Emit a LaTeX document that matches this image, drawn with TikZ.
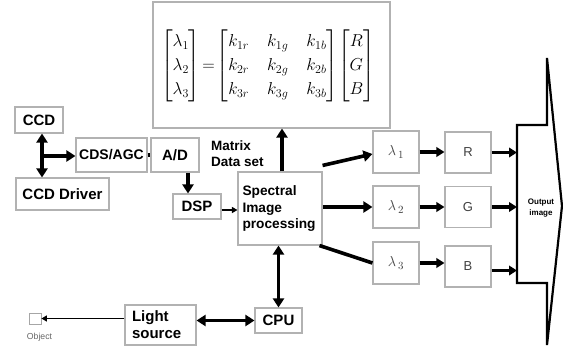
\documentclass[tikz,border=0pt]{standalone}
\usepackage{amsmath}
\usepackage[no-math]{fontspec}
\setmainfont{Liberation Sans}
\usetikzlibrary{arrows.meta}
\begin{document}
\begin{tikzpicture}[x=1pt,y=-1pt,
  box/.style={draw=gray!60, line width=1.1pt, fill=white, inner sep=0pt,
    font=\bfseries\fontsize{15}{17}\selectfont},
  lbox/.style={draw=gray!60, line width=1.1pt, fill=white, inner sep=0pt, text=black!75,
    minimum width=46pt, minimum height=42pt, font=\fontsize{15}{16}\selectfont},
  cbox/.style={draw=gray!60, line width=1.1pt, fill=white, inner sep=0pt, text=black!75,
    minimum width=46pt, minimum height=41pt, font=\fontsize{13}{14}\selectfont},
  tip/.tip={Triangle[length=9pt,width=11pt]},
  stip/.tip={Triangle[length=8pt,width=9.5pt]},
  arr/.style={line width=3.6pt, -tip},
  sarr/.style={line width=3.6pt, -stip},
  dbl/.style={line width=3.6pt, tip-tip},
  thin/.style={line width=1.2pt, -{Triangle[length=5.5pt,width=6pt]}}]
\useasboundingbox (0,0) rectangle (563,351);

% matrix box
\node[draw=gray!60, line width=1.1pt, minimum width=237pt, minimum height=126pt, inner sep=0pt] (mat) at (271.5,65) {};
\node[inner sep=0pt] (eq) at (268,66) {\fontsize{18}{24}\selectfont
  $\begin{bmatrix}\lambda_1\\ \lambda_2\\ \lambda_3\end{bmatrix}
  \!=\!
  {\arraycolsep=9pt\begin{bmatrix} k_{1r} & k_{1g} & k_{1b}\\ k_{2r} & k_{2g} & k_{2b}\\ k_{3r} & k_{3g} & k_{3b}\end{bmatrix}}
  \!\begin{bmatrix}R\\ G\\ B\end{bmatrix}$};

\node[box, minimum width=48pt, minimum height=26pt] (ccd) at (39,120) {CCD};
\node[box, minimum width=93pt, minimum height=32pt] (drv) at (62.5,194) {CCD Driver};
\node[box, minimum width=71pt, minimum height=34pt, font=\bfseries\fontsize{14}{16}\selectfont] (cds) at (111.5,155) {CDS/AGC};
\node[box, minimum width=48pt, minimum height=34pt] (ad) at (175,155) {A/D};
\node[box, minimum width=48pt, minimum height=25pt] (dsp) at (197,206.5) {DSP};
\node[box, minimum height=73pt, text width=75pt, inner xsep=4.5pt, align=left,
  font=\bfseries\fontsize{13.7}{16.5}\selectfont] (sip) at (280,208.5) {Spectral\\Image\\processing};
\node[inner sep=0pt, anchor=west, align=left, font=\bfseries\fontsize{13.5}{16.5}\selectfont] (mds) at (211,153.5) {Matrix\\Data set};

\node[lbox] (l1) at (396,152) {$\lambda_{\,1}$};
\node[lbox] (l2) at (396,207) {$\lambda_{\,2}$};
\node[lbox] (l3) at (396,263) {$\lambda_{\,3}$};
\node[cbox] (r) at (468,152.5) {R};
\node[cbox] (g) at (468,207) {G};
\node[cbox] (b) at (468,266.5) {B};

\node[box, minimum width=47pt, minimum height=25pt] (cpu) at (278.5,320.5) {CPU};
\node[box, minimum height=40pt, text width=57pt, inner xsep=7pt, align=left] (light) at (160.5,325) {Light\\source};
\node[draw=gray!70, line width=0.8pt, minimum width=12pt, minimum height=11pt, inner sep=0pt] (obj) at (35,318.5) {};
\node[text=gray!80!black, font=\fontsize{8.7}{10}\selectfont, inner sep=0pt] (objl) at (39.5,337) {Object};

% output shape
\coordinate (o1) at (517,125);
\coordinate (o2) at (547,125);
\coordinate (o3) at (547,58);
\coordinate (o4) at (562,206);
\coordinate (o5) at (547,345);
\coordinate (o6) at (547,283);
\coordinate (o7) at (517,283);
\draw[line width=2.2pt] (o1) -- (o2) -- (o3) -- (o4) -- (o5) -- (o6) -- (o7) -- cycle;
\node[align=center, font=\bfseries\fontsize{8}{11}\selectfont, inner sep=0pt] (out) at (541,208) {Output\\image};

% connectors
\coordinate (j) at (42,156);
\coordinate (bq) at ([yshift=-4pt]b.east);
\draw[dbl] (ccd.south -| j) -- (drv.north -| j);
\draw[arr] (j) -- (cds.west |- j);
\draw[line width=3.5pt] (cds.east) -- (ad.west);
\draw[arr] ([xshift=13pt]ad.south) -- ([xshift=13pt]ad.south |- dsp.north);
\draw[thin] (dsp.east |- 0,210) -- (sip.west |- 0,210);
\draw[arr] ([xshift=2pt]sip.north) -- ([xshift=2pt]sip.north |- mat.south);
\draw[arr] ([yshift=6pt]sip.north east) -- ([yshift=-2pt]l1.west);
\draw[arr] (sip.east |- l2.west) -- (l2.west);
\draw[line width=3.6pt] ([xshift=-3pt]sip.south east) -- (l3.west);
\draw[sarr] (l1.east) -- (r.west |- l1.east);
\draw[sarr] (l2.east) -- (g.west |- l2.east);
\draw[sarr] (l3.east) -- (b.west |- l3.east);
\draw[sarr] (r.east) -- (o1 |- r.east);
\draw[sarr] (g.east) -- (o1 |- g.east);
\draw[sarr] (bq) -- (o1 |- bq);
\draw[dbl] (sip.south -| cpu.north) -- (cpu.north);
\draw[dbl] (light.east |- cpu.west) -- (cpu.west);
\draw[thin] (light.west |- obj.east) -- (obj.east);
\end{tikzpicture}
\end{document}
